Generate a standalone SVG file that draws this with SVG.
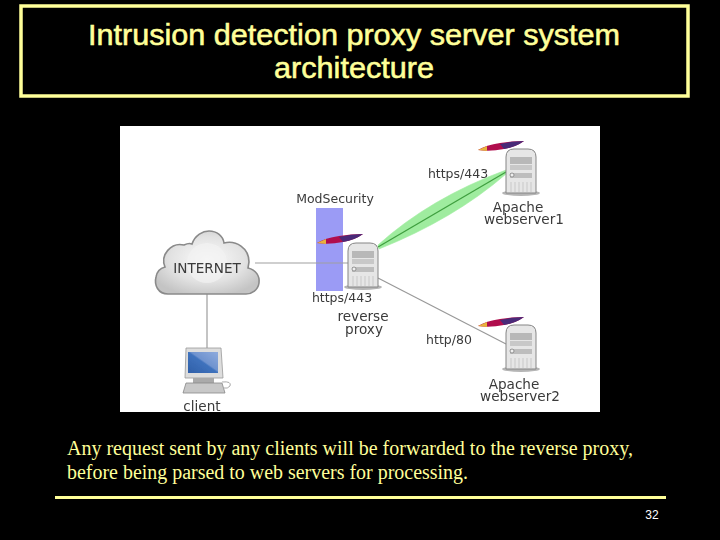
<svg xmlns="http://www.w3.org/2000/svg" width="720" height="540" viewBox="0 0 720 540">
<style>
.t{font-family:"Liberation Sans",Arial,sans-serif;font-size:29px;font-weight:400;fill:#ffff99;stroke:#ffff99;stroke-width:.55;text-anchor:middle}
.b{font-family:"Liberation Serif","Times New Roman",serif;font-size:20px;fill:#ffff99}
.d{font-family:"DejaVu Sans",sans-serif;font-size:13.6px;fill:#3a3a3a;text-anchor:middle}
.s{font-size:12.5px}
</style>
<defs>
<filter id="soft" x="-2%" y="-2%" width="104%" height="104%"><feGaussianBlur stdDeviation="0.45"/></filter>
<radialGradient id="cg" cx=".5" cy=".45" r=".6"><stop offset="0" stop-color="#fbfbfb"/><stop offset=".6" stop-color="#e2e2e2"/><stop offset="1" stop-color="#c4c4c4"/></radialGradient>
<linearGradient id="mg" x1="0" y1="1" x2="1" y2="0"><stop offset="0" stop-color="#2f5fa8"/><stop offset=".5" stop-color="#3f72bd"/><stop offset=".55" stop-color="#6f93cf"/><stop offset="1" stop-color="#8fabdd"/></linearGradient>
<g id="srv">
<ellipse cx="15" cy="44" rx="19" ry="3" fill="#b5b5b5"/>
<path d="M0 44V8Q0 0 8 0H22Q30 0 30 8V44Z" fill="#e6e6e6" stroke="#858585" stroke-width="1"/>
<rect x="4" y="8" width="22" height="7" fill="#b8b8b8"/><rect x="4" y="16" width="22" height="5" fill="#c8c8c8"/>
<rect x="4" y="24" width="22" height="5" fill="#bdbdbd"/><circle cx="6" cy="26" r="2" fill="#eee" stroke="#777" stroke-width=".7"/>
<path d="M5 33V43M9 33V43M13 33V43M17 33V43M21 33V43M25 33V43" stroke="#c8c8c8" stroke-width="1"/>
</g>
<g id="fth">
<path d="M0 9Q8 4 22 2Q34 0 46 0Q38 6 26 8Q12 11 0 9Z" fill="#b0104e"/>
<path d="M22 3Q34 0 46 0Q38 6 26 8Z" fill="#4a2a78"/>
<path d="M0 9L9 5L9 10Z" fill="#e8b23c"/>
</g>
</defs>
<rect width="720" height="540" fill="#000"/>
<g id="title">
<rect x="21" y="6" width="667" height="90" fill="none" stroke="#ffff99" stroke-width="3.5"/>
<text class="t" x="354" y="45" textLength="532" lengthAdjust="spacingAndGlyphs">Intrusion detection proxy server system</text>
<text class="t" x="354" y="78" textLength="160" lengthAdjust="spacingAndGlyphs">architecture</text>
</g>
<rect x="120" y="126" width="480" height="286" fill="#fff"/>
<g id="figure" filter="url(#soft)">
<rect x="316" y="208" width="27" height="83" fill="#9b9bf5"/>
<g id="connectors" fill="none">
<path d="M378 245Q430 198 506 170L506 174Q454 219 379 249Z" fill="#9fec9f" stroke="#9fec9f" stroke-width=".6"/>
<path d="M378 247L506 172" stroke="#3f9f3f" stroke-width="1.3"/>
<path d="M255 263H348" stroke="#a0a0a0" stroke-width="1.2"/>
<path d="M207 293V349" stroke="#b0b0b0" stroke-width="1.5"/>
<path d="M378 278L506 344" stroke="#999" stroke-width="1.2"/>
</g>
<g id="internet">
<path d="M168 294C158 294 154 285 156 277C157 271 161 268 165 267C160 255 171 242 184 245C188 243 190 243 192 244C195 235 203 231 209 231C217 231 223 236 224 243C236 240 249 248 249 262L248 268C256 270 260 276 259 283C258 290 252 294 246 294Z" fill="url(#cg)" stroke="#8a8a8a" stroke-width="1.6"/>
<circle cx="207" cy="263" r="20" fill="#f2f2f2" opacity=".7"/>
<text class="d" x="207" y="273">INTERNET</text>
</g>
<g id="client">
<path d="M186 348H221L223 378H185Z" fill="#ddd" stroke="#999" stroke-width=".8"/>
<rect x="188" y="352" width="30" height="21" fill="url(#mg)"/>
<rect x="193" y="378" width="21" height="5" fill="#aaa"/>
<path d="M186 383H222L225 393H183Z" fill="#c8c8c8" stroke="#888" stroke-width=".8"/>
<path d="M222 382Q232 381 230 386Q228 389 223 388" fill="none" stroke="#aaa"/>
<text class="d" x="202" y="411">client</text>
</g>
<g id="reverse-proxy">
<use href="#srv" x="348" y="243"/>
<use href="#fth" x="317" y="234"/>
<text class="d s" x="342" y="302">https/443</text>
<text class="d" x="363" y="321">reverse</text>
<text class="d" x="364" y="334">proxy</text>
</g>
<text class="d s" x="335" y="203">ModSecurity</text>
<g id="webserver1">
<use href="#srv" x="506" y="149"/>
<use href="#fth" x="478" y="141"/>
<text class="d s" x="458" y="178">https/443</text>
<text class="d" x="518" y="212">Apache</text>
<text class="d" x="524" y="224">webserver1</text>
</g>
<g id="webserver2">
<use href="#srv" x="506" y="325"/>
<use href="#fth" x="478" y="317"/>
<text class="d s" x="449" y="344">http/80</text>
<text class="d" x="514" y="389">Apache</text>
<text class="d" x="520" y="401">webserver2</text>
</g>
</g>
<text class="b" x="67" y="455" textLength="566" lengthAdjust="spacingAndGlyphs">Any request sent by any clients will be forwarded to the reverse proxy,</text>
<text class="b" x="67" y="479" textLength="401" lengthAdjust="spacingAndGlyphs">before being parsed to web servers for processing.</text>
<rect x="55" y="496" width="611" height="3" fill="#ffff99"/>
<text x="652" y="519" style="font-family:'Liberation Sans',Arial,sans-serif;font-size:12px;fill:#fff;text-anchor:middle">32</text>
</svg>
